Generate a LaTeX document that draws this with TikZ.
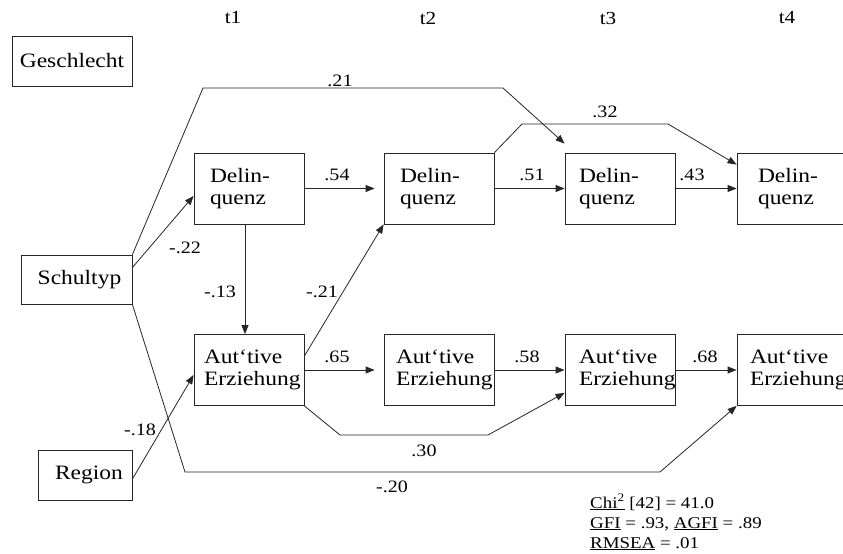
\documentclass[tikz,border=0pt]{standalone}
\usepackage{fontspec}
\setmainfont[FakeStretch=1.15]{Liberation Serif}
\usetikzlibrary{arrows.meta}
\begin{document}
\begin{tikzpicture}[x=1bp,y=-1bp,
  ln/.style={draw=black!85, line width=0.8bp},
  arr/.style={ln, -{Triangle[length=9bp,width=7bp]}},
  box/.style={draw=black!85, line width=0.8bp, minimum width=110bp, minimum height=71bp,
    font=\fontsize{20.5}{22}\selectfont, align=left, inner ysep=0pt},
  pad/.style={inner xsep=#1bp, text width=\dimexpr110bp-#1bp*2\relax},
  sbox/.style={draw=black!85, line width=0.8bp, font=\fontsize{20.5}{22}\selectfont, inner sep=0pt},
  lab/.style={font=\fontsize{17.5}{19}\selectfont, inner sep=0pt},
  tlab/.style={font=\fontsize{18.5}{20}\selectfont, inner sep=0pt},
  stat/.style={font=\fontsize{16.5}{18}\selectfont, inner sep=0pt, anchor=base west},
]
\useasboundingbox[fill=white] (0,0) rectangle (843,554);

% time labels
\node[tlab] (t1) at (233,18) {t1};
\node[tlab] (t2) at (428,18) {t2};
\node[tlab] (t3) at (608,18) {t3};
\node[tlab] (t4) at (787,18) {t4};

% exogenous boxes
\node[sbox, minimum width=120bp, minimum height=50bp] (G) at (72,61) {Geschlecht};
\node[sbox, minimum width=111bp, minimum height=49bp] (S) at (76.5,279.5) {\hspace*{6bp}Schultyp};
\node[sbox, minimum width=94bp, minimum height=50bp] (R) at (85,475) {\hspace*{8bp}Region};

% Delinquenz row
\node[box, pad=16] (D1) at (249,188.5) {Delin-\\quenz};
\node[box, pad=16] (D2) at (439,188.5) {Delin-\\quenz};
\node[box, pad=14] (D3) at (620,188.5) {Delin-\\quenz};
\node[box, pad=21] (D4) at (792,188.5) {Delin-\\quenz};

% Erziehung row
\node[box, pad=10] (A1) at (249,370) {Aut‘tive\\Erziehung};
\node[box, pad=12] (A2) at (439,370) {Aut‘tive\\Erziehung};
\node[box, pad=14] (A3) at (620,370) {Aut‘tive\\Erziehung};
\node[box, pad=13] (A4) at (792,370) {Aut‘tive\\Erziehung};

% bend points
\coordinate (b1) at (203,88);
\coordinate (b2) at (503,88);
\coordinate (b3) at (522,124);
\coordinate (b4) at (668,124);
\coordinate (b5) at (185,472);
\coordinate (b6) at (660,472);
\coordinate (b7) at (340,435);
\coordinate (b8) at (488,435);

% connectors
\draw[arr] ([yshift=12bp]S.east) -- ([yshift=-7.5bp]D1.west);
\draw[arr] (S.north east) -- (b1) -- (b2) -- ([yshift=9bp]D3.north west);
\draw[arr] (D2.north east) -- (b3) -- (b4) -- ([yshift=-12bp]D4.north west);
\draw[arr] (D1.east) -- ([xshift=-9bp]D2.west);
\draw[arr] (D2.east) -- (D3.west);
\draw[arr] (D3.east) -- (D4.west);
\draw[arr] ([xshift=-4bp]D1.south) -- ([xshift=-4bp]A1.north);
\draw[arr] ([yshift=14bp]A1.east) -- (D2.south west);
\draw[arr] ([yshift=-4bp]R.east) -- ([yshift=-5bp]A1.west);
\draw[arr] (S.south east) -- (b5) -- (b6) -- (A4.south west);
\draw[arr] (A1.south east) -- (b7) -- (b8) -- ([yshift=13bp]A3.south west);
\draw[arr] (A1.east) -- ([xshift=-9bp]A2.west);
\draw[arr] (A2.east) -- (A3.west);
\draw[arr] (A3.east) -- (A4.west);

% coefficient labels
\node[lab] (l1) at (185,248) {-.22};
\node[lab] (l2) at (340,81) {.21};
\node[lab] (l3) at (605,112) {.32};
\node[lab] (l4) at (337,175) {.54};
\node[lab] (l5) at (532,175) {.51};
\node[lab] (l6) at (692,175) {.43};
\node[lab] (l7) at (220,292) {-.13};
\node[lab] (l8) at (322,292) {-.21};
\node[lab] (l9) at (337,357) {.65};
\node[lab] (l10) at (527,357) {.58};
\node[lab] (l11) at (705,357) {.68};
\node[lab] (l12) at (140,430) {-.18};
\node[lab] (l13) at (424,451) {.30};
\node[lab] (l14) at (392,487) {-.20};

% fit statistics
\node[stat] (s1) at (590,508) {\underline{Chi\textsuperscript{2}} [42] = 41.0};
\node[stat] (s2) at (590,528) {\underline{GFI} = .93, \underline{AGFI} = .89};
\node[stat] (s3) at (590,548) {\underline{RMSEA} = .01};
\end{tikzpicture}
\end{document}
